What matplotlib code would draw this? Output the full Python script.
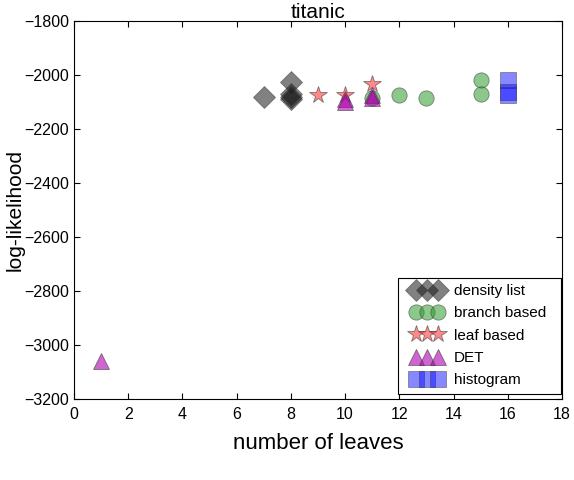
import matplotlib
matplotlib.use('Agg')
import matplotlib.pyplot as plt
from matplotlib.lines import Line2D
from matplotlib.legend_handler import HandlerLine2D

plt.rcParams['font.family'] = ['Liberation Sans', 'DejaVu Sans']

# data
density_x = [7, 8, 8, 8, 8]
density_y = [-2080, -2025, -2070, -2080, -2090]
branch_x = [11, 12, 13, 15, 15]
branch_y = [-2085, -2075, -2085, -2020, -2070]
leaf_x = [9, 10, 11]
leaf_y = [-2075, -2072, -2032]
det_x = [1, 10, 10, 11, 11]
det_y = [-3058, -2090, -2100, -2075, -2085]
hist_x = [16, 16, 16]
hist_y = [-2018, -2062, -2075]

fig = plt.figure(figsize=(5.74, 4.8), dpi=100)
ax = fig.add_axes([0.129, 0.169, 0.850, 0.787])

ec = '#333333'
ax.plot(density_x, density_y, 'D', color='#1a1a1a', alpha=0.55, ms=11,
        mec=ec, mew=0.6, label='density list')
ax.plot(branch_x, branch_y, 'o', color='#2e9a2e', alpha=0.55, ms=11,
        mec=ec, mew=0.6, label='branch based')
ax.plot(leaf_x, leaf_y, '*', color='#ff3a3a', alpha=0.6, ms=13,
        mec=ec, mew=0.6, label='leaf based')
ax.plot(det_x, det_y, '^', color='#b000b0', alpha=0.6, ms=11,
        mec=ec, mew=0.6, label='DET')
ax.plot(hist_x, hist_y, 's', color='#1010ff', alpha=0.5, ms=11,
        mec=ec, mew=0.6, label='histogram')

ax.set_xlim(0, 18)
ax.set_ylim(-3200, -1800)
ax.set_xticks(range(0, 19, 2))
ax.set_yticks(range(-3200, -1799, 200))
ax.tick_params(direction='in', top=True, right=True, labelsize=11.5, length=4)
ax.tick_params(axis='x', pad=6)
ax.set_xlabel('number of leaves', fontsize=16, labelpad=8)
ax.set_ylabel('log-likelihood', fontsize=15)
ax.yaxis.set_label_coords(-0.102, 0.5)
ax.set_title('titanic', fontsize=15, pad=2)

leg = ax.legend(loc='lower left', bbox_to_anchor=(0.664, 0.014, 0.334, 0.314),
                mode='expand', numpoints=3, handlelength=3.0,
                fontsize=11, fancybox=False, framealpha=1,
                edgecolor='black', borderaxespad=0, labelspacing=0.55,
                handletextpad=0.25, borderpad=0.4,
                handler_map={Line2D: HandlerLine2D(marker_pad=0.8)})
leg.get_frame().set_linewidth(0.8)

fig.savefig('out.png', dpi=100)
